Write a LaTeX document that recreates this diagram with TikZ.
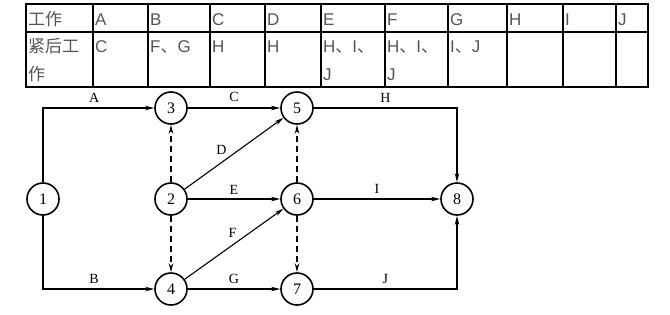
\documentclass[tikz,border=0pt]{standalone}
\usepackage{fontspec}
\setmainfont{Liberation Serif}
\newfontfamily\cellfont{Liberation Sans}
\newfontfamily\cjk{Noto Sans CJK SC}
\usetikzlibrary{arrows.meta}
\definecolor{celltext}{RGB}{85,85,85}
\newcommand\dun{{\cjk 、}}

\begin{document}
\begin{tikzpicture}[x=1pt, y=-1pt,
    arr/.style={-{Stealth[length=9pt, width=4.5pt]}, line width=1.1pt},
    dummy/.style={arr, dash pattern=on 6pt off 4pt},
    event/.style={draw, circle, line width=1.6pt, minimum size=32pt,
                  inner sep=0pt, font=\fontsize{16}{16}\selectfont},
    lbl/.style={font=\fontsize{14}{14}\selectfont, inner sep=2pt},
    cell/.style={anchor=base west, inner sep=0pt, text=celltext,
                 font=\cellfont\fontsize{17}{17}\selectfont},
    rule/.style={line width=1.3pt}
  ]
  \useasboundingbox (0,0) rectangle (670,314);

  % table of jobs
  \draw[rule] (26,4) rectangle (648,87);
  \draw[rule] (26,32) -- (648,32);
  \foreach \x in {93,148,210,265,321,385,448,507,563,616}
    \draw[rule] (\x,4) -- (\x,87);
  \foreach \x/\job/\follow/\more in {28/{\cjk 工作}/{\cjk 紧后工}/{\cjk 作},
      95/A/C/{}, 150/B/{F\dun G}/{}, 212/C/H/{}, 267/D/H/{},
      323/E/{H\dun I\dun}/J, 387/F/{H\dun I\dun}/J,
      450/G/{I\dun J}/{}, 509/H/{}/{}, 565/I/{}/{}, 618/J/{}/{}}
  {
    \node[cell] (job\x) at (\x,25) {\job};
    \node[cell] (follow\x) at (\x,52) {\follow};
    \node[cell] (more\x) at (\x,80) {\more};
  }

  % events
  \node[event] (n1) at (43,199) {1};
  \node[event] (n2) at (171,199) {2};
  \node[event] (n3) at (171,108) {3};
  \node[event] (n4) at (171,289) {4};
  \node[event] (n5) at (297,108) {5};
  \node[event] (n6) at (297,199) {6};
  \node[event] (n7) at (297,289) {7};
  \node[event] (n8) at (457,199) {8};

  % activities
  \draw[arr] (n1) |- node[lbl, pos=0.73, above=3pt]{A} (n3);
  \draw[arr] (n1) |- node[lbl, pos=0.73, above=3pt]{B} (n4);
  \draw[arr] (n3) -- node[lbl, above=4pt]{C} (n5);
  \draw[arr] (n5) -| node[lbl, pos=0.25, above=3pt]{H} (n8);
  \draw[arr] (n2) -- node[lbl, pos=0.45, above left]{D} (n5);
  \draw[arr] (n2) -- node[lbl, above=2pt]{E} (n6);
  \draw[arr] (n4) -- node[lbl, pos=0.55, above left]{F} (n6);
  \draw[arr] (n4) -- node[lbl, above=3pt]{G} (n7);
  \draw[arr] (n6) -- node[lbl, above=3pt]{I} (n8);
  \draw[arr] (n7) -| node[lbl, pos=0.25, above=3pt]{J} (n8);

  % dummy activities
  \draw[dummy] (n2) -- (n3);
  \draw[dummy] (n2) -- (n4);
  \draw[dummy] (n6) -- (n5);
  \draw[dummy] (n6) -- (n7);
\end{tikzpicture}
\end{document}
